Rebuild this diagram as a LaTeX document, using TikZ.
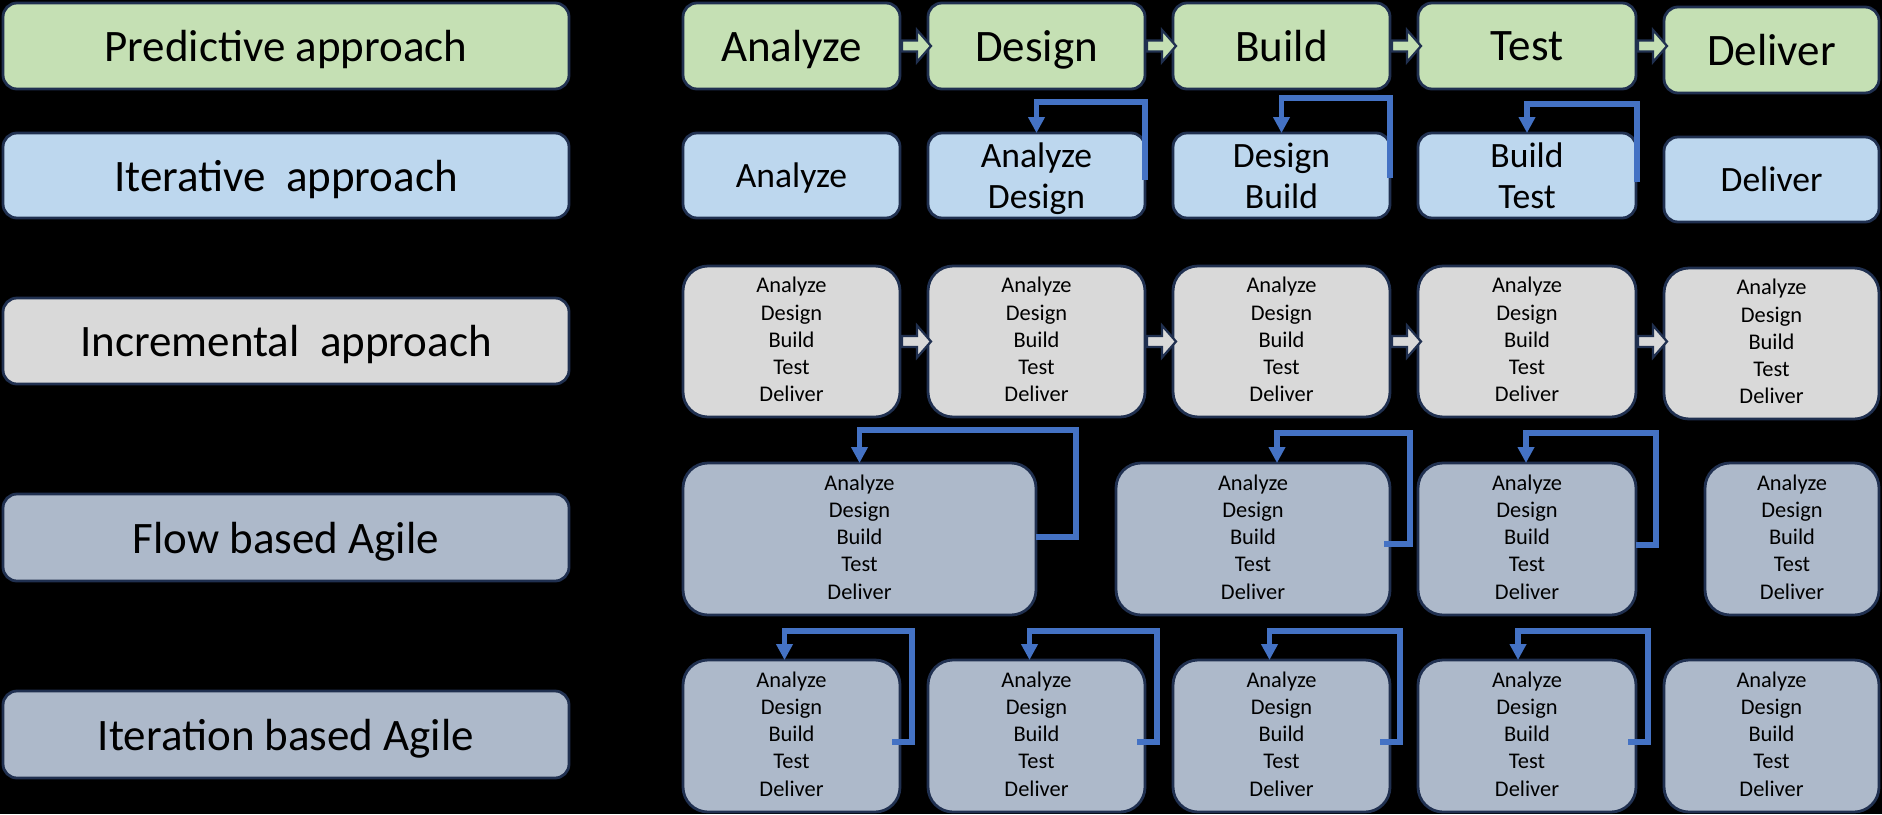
\documentclass[tikz,border=0pt]{standalone}
\usepackage{fontspec}
\setmainfont{Carlito}
\usetikzlibrary{arrows.meta,calc}
\definecolor{navy}{HTML}{203050}
\definecolor{cgreen}{HTML}{C5E0B4}
\definecolor{cblue}{HTML}{BDD7EE}
\definecolor{cgray}{HTML}{D9D9D9}
\definecolor{cbg}{HTML}{ADB9CA}
\definecolor{arblue}{HTML}{4472C4}
\newcommand\fivesteps{Analyze\\Design\\Build\\Test\\Deliver}
\newcommand\mybox[7]{%
  \pgfmathsetmacro\bxw{(#5-#3)*0.5}%
  \pgfmathsetmacro\bxh{(#6-#4)*0.5}%
  \node[#2, minimum width=\bxw pt, minimum height=\bxh pt] (#1) at ({(#3+#5)/2},{(#4+#6)/2}) {#7};}
\newcommand\blockar[3]{%
  \draw[barr, fill=#3] ($(#1.east)+(2,-5.5)$) -- ($(#1.east -| #2.west)+(-11,-5.5)$)
    -- ($(#1.east -| #2.west)+(-11,-16)$) -- ($(#1.east -| #2.west)+(3,0)$)
    -- ($(#1.east -| #2.west)+(-11,16)$) -- ($(#1.east -| #2.west)+(-11,5.5)$)
    -- ($(#1.east)+(2,5.5)$) -- cycle;}
\tikzset{
  bxbase/.style={draw=navy, line width=1.4pt, inner sep=0pt, outer sep=0pt, align=center, text=black},
  shortbox/.style={bxbase, rounded corners=7pt},
  tallbox/.style={bxbase, rounded corners=12.5pt},
  bigbox/.style={shortbox, text depth=0pt, font=\fontsize{22.5}{26}\selectfont},
  midbox/.style={shortbox, text depth=0pt, font=\fontsize{17.8}{20.5}\selectfont},
  smallbox/.style={tallbox, text depth=2pt, font=\fontsize{11.2}{13.6}\selectfont},
  loopar/.style={draw=arblue, line width=2.6pt, -{Triangle[width=8pt,length=8pt]}, line join=miter},
  barr/.style={draw=navy, line width=1.1pt, line join=miter},
}
\begin{document}
\begin{tikzpicture}[x=0.5pt, y=-0.5pt]
\fill[black] (0,0) rectangle (1882,814);
\useasboundingbox (0,0) rectangle (1882,814);
% left labels
\mybox{L1}{bigbox,fill=cgreen}{3}{3}{569}{89}{Predictive approach}
\mybox{L2}{bigbox,fill=cblue}{3}{133}{569}{218}{Iterative\ \ approach}
\mybox{L3}{bigbox,fill=cgray}{3}{298}{569}{384}{Incremental\ \ approach}
\mybox{L4}{bigbox,fill=cbg}{3}{494}{569}{581}{Flow based Agile}
\mybox{L5}{bigbox,fill=cbg}{3}{691}{569}{778}{Iteration based Agile}
% row 1 predictive
\mybox{a1}{bigbox,fill=cgreen}{683}{3}{900}{89}{Analyze}
\mybox{a2}{bigbox,fill=cgreen}{928}{3}{1145}{89}{Design}
\mybox{a3}{bigbox,fill=cgreen}{1173}{3}{1390}{89}{Build}
\mybox{a4}{bigbox,fill=cgreen}{1418}{3}{1636}{89}{Test}
\mybox{a5}{bigbox,fill=cgreen}{1664}{7}{1879}{93}{Deliver}
\blockar{a1}{a2}{cgreen}
\blockar{a2}{a3}{cgreen}
\blockar{a3}{a4}{cgreen}
\blockar{a4}{a5}{cgreen}
% row 2 iterative
\mybox{b1}{midbox,fill=cblue}{683}{133}{900}{218}{Analyze}
\mybox{b2}{midbox,fill=cblue}{928}{133}{1145}{218}{Analyze\\Design}
\mybox{b3}{midbox,fill=cblue}{1173}{133}{1390}{218}{Design\\Build}
\mybox{b4}{midbox,fill=cblue}{1418}{133}{1636}{218}{Build\\Test}
\mybox{b5}{midbox,fill=cblue}{1664}{137}{1879}{222}{Deliver}
\draw[loopar] ($(b2.east)+(0,4.5)$) |- ($(b2.north)+(0,-31)$) -- (b2.north);
\draw[loopar] ($(b3.east)+(0,2.5)$) |- ($(b3.north)+(0,-35)$) -- (b3.north);
\draw[loopar] ($(b4.east)+(1,6.5)$) |- ($(b4.north)+(0,-29)$) -- (b4.north);
% row 3 incremental
\mybox{c1}{smallbox,fill=cgray}{683}{266}{900}{417}{\fivesteps}
\mybox{c2}{smallbox,fill=cgray}{928}{266}{1145}{417}{\fivesteps}
\mybox{c3}{smallbox,fill=cgray}{1173}{266}{1390}{417}{\fivesteps}
\mybox{c4}{smallbox,fill=cgray}{1418}{266}{1636}{417}{\fivesteps}
\mybox{c5}{smallbox,fill=cgray}{1664}{268}{1879}{419}{\fivesteps}
\blockar{c1}{c2}{cgray}
\blockar{c2}{c3}{cgray}
\blockar{c3}{c4}{cgray}
\blockar{c4}{c5}{cgray}
% row 4 flow based
\mybox{d1}{smallbox,fill=cbg}{683}{463}{1036}{615}{\fivesteps}
\mybox{d2}{smallbox,fill=cbg}{1116}{463}{1390}{615}{\fivesteps}
\mybox{d3}{smallbox,fill=cbg}{1418}{463}{1636}{615}{\fivesteps}
\mybox{d4}{smallbox,fill=cbg}{1705}{463}{1879}{615}{\fivesteps}
\draw[loopar] ($(d1.east)+(0,-2)$) -- ++(40,0) |- ($(d1.north)+(0,-33)$) -- (d1.north);
\draw[loopar] ($(d2.east)+(-6,5)$) -- ++(26,0) |- ($(d2.north)+(24,-30)$) -- ($(d2.north)+(24,0)$);
\draw[loopar] ($(d3.east)+(0,6)$) -- ++(20,0) |- ($(d3.north)+(-1,-30)$) -- ($(d3.north)+(-1,0)$);
% row 5 iteration based
\mybox{e1}{smallbox,fill=cbg}{683}{660}{900}{812}{\fivesteps}
\mybox{e2}{smallbox,fill=cbg}{928}{660}{1145}{812}{\fivesteps}
\mybox{e3}{smallbox,fill=cbg}{1173}{660}{1390}{812}{\fivesteps}
\mybox{e4}{smallbox,fill=cbg}{1418}{660}{1636}{812}{\fivesteps}
\mybox{e5}{smallbox,fill=cbg}{1664}{660}{1879}{812}{\fivesteps}
\draw[loopar] ($(e1.east)+(-8,6)$) -- ++(20,0) |- ($(e1.north)+(-7,-29)$) -- ($(e1.north)+(-7,0)$);
\draw[loopar] ($(e2.east)+(-8,6)$) -- ++(20,0) |- ($(e2.north)+(-7,-29)$) -- ($(e2.north)+(-7,0)$);
\draw[loopar] ($(e3.east)+(-10,6)$) -- ++(20,0) |- ($(e3.north)+(-12,-29)$) -- ($(e3.north)+(-12,0)$);
\draw[loopar] ($(e4.east)+(-8,6)$) -- ++(20,0) |- ($(e4.north)+(-9,-29)$) -- ($(e4.north)+(-9,0)$);
\end{tikzpicture}
\end{document}
